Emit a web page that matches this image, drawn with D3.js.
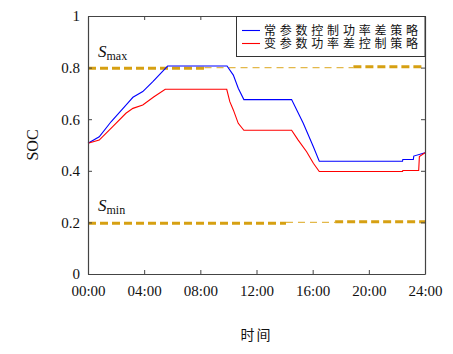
<!DOCTYPE html>
<html>
<head>
<meta charset="utf-8">
<script src="https://cdn.jsdelivr.net/npm/d3@7"></script>
<style>
  body { margin: 0; background: #fff; }
  svg text { font-family: "Liberation Serif", "DejaVu Serif", serif; fill: #111; }
  svg text.cjk { font-family: "Noto Sans CJK SC", sans-serif; }
</style>
</head>
<body>
<svg id="chart" width="453" height="354"></svg>
<script>
// hours and SOC
var blueT = [0, 0.8, 1.64, 2.83, 3.2, 3.9, 4.6, 5.67, 9.9, 10.35, 10.7, 11.1, 14.5, 15.33, 16.05, 16.47, 22.4, 22.42, 23.17, 23.2, 24];
var blueV = [0.507, 0.532, 0.59, 0.662, 0.685, 0.707, 0.745, 0.806, 0.806, 0.771, 0.72, 0.676, 0.676, 0.584, 0.493, 0.437, 0.437, 0.444, 0.444, 0.457, 0.47];
var redT = [0, 0.8, 1.76, 2.7, 3.2, 3.9, 4.7, 5.5, 9.88, 10.1, 10.35, 10.7, 11.1, 14.5, 14.97, 15.57, 16.05, 16.47, 22.4, 22.42, 23.55, 23.6, 24];
var redV = [0.507, 0.519, 0.571, 0.623, 0.642, 0.655, 0.687, 0.716, 0.716, 0.668, 0.636, 0.584, 0.557, 0.557, 0.519, 0.474, 0.429, 0.397, 0.397, 0.401, 0.401, 0.455, 0.47];

// Smax / Smin limit segments: [start h, end h, value, thick?]
var smaxSeg = [[0, 8.3, 0.797, true], [8.3, 18.9, 0.8, false], [18.9, 24, 0.803, true]];
var sminSeg = [[0, 14.1, 0.197, true], [14.1, 17.6, 0.2, false], [17.6, 24, 0.203, true]];

var xTicks = [0, 4, 8, 12, 16, 20, 24];
var xTickLabels = ['00:00', '04:00', '08:00', '12:00', '16:00', '20:00', '24:00'];
var yTicks = [0, 0.2, 0.4, 0.6, 0.8, 1];
var legendNames = ['常参数控制功率差策略', '变参数功率差控制策略'];
var colors = ['#0000ff', '#ff0000'];

var svg = d3.select('#chart');
var margin = {top: 16, left: 88, right: 28, bottom: 80};
var width = 453 - margin.left - margin.right,
    height = 354 - margin.top - margin.bottom;
var g = svg.append('g').attr('transform', 'translate(' + margin.left + ',' + margin.top + ')');

var x = d3.scaleLinear().domain([0, 24]).range([0, width]);
var y = d3.scaleLinear().domain([0, 1]).range([height, 0]);

// limit lines
var gold = '#d6a012';
function drawSeg(segs) {
  segs.forEach(function(s) {
    g.append('line')
      .attr('x1', x(s[0])).attr('x2', x(s[1]))
      .attr('y1', y(s[2])).attr('y2', y(s[2]))
      .attr('stroke', s[3] ? gold : '#e3b84a')
      .attr('stroke-width', s[3] ? 3 : 1.2)
      .attr('stroke-dasharray', s[3] ? '8,4' : '7,5');
  });
}
drawSeg(smaxSeg);
drawSeg(sminSeg);

var line = d3.line()
  .x(function(d) { return x(d[0]); })
  .y(function(d) { return y(d[1]); });

[[blueT, blueV], [redT, redV]].forEach(function(s, i) {
  g.append('path')
    .datum(d3.zip(s[0], s[1]))
    .attr('fill', 'none')
    .attr('stroke', colors[i])
    .attr('stroke-width', 1.1)
    .attr('d', line);
});

// axes (ticks inside, mirrored)
var axisColor = '#444';
var xb = g.append('g').attr('transform', 'translate(0,' + height + ')')
  .call(d3.axisBottom(x).tickValues(xTicks).tickSizeInner(-4).tickSizeOuter(0)
    .tickFormat(function(d, i) { return xTickLabels[i]; }));
var xt = g.append('g')
  .call(d3.axisTop(x).tickValues(xTicks).tickSizeInner(-4).tickSizeOuter(0).tickFormat(''));
var yl = g.append('g')
  .call(d3.axisLeft(y).tickValues(yTicks).tickSizeInner(-4).tickSizeOuter(0).tickFormat(d3.format('~g')));
var yr = g.append('g').attr('transform', 'translate(' + width + ',0)')
  .call(d3.axisRight(y).tickValues(yTicks).tickSizeInner(-4).tickSizeOuter(0).tickFormat(''));

[xb, xt, yl, yr].forEach(function(a) {
  a.attr('font-family', null).attr('font-size', null);
  a.select('.domain').attr('stroke', axisColor).attr('stroke-width', 1.2);
  a.selectAll('.tick line').attr('stroke', axisColor);
  a.selectAll('text').style('font-size', '15px').attr('fill', '#111');
});
xb.selectAll('.tick text').attr('dy', '1.25em');
yl.selectAll('.tick text').attr('x', -8);

// axis titles
svg.append('text').attr('class', 'cjk')
  .attr('x', margin.left + width / 2).attr('y', 340)
  .attr('text-anchor', 'middle').style('font-size', '14px').style('letter-spacing', '2px')
  .attr('fill', '#333').text('时间');
svg.append('text')
  .attr('transform', 'translate(38,' + (margin.top + height / 2) + ') rotate(-90)')
  .attr('text-anchor', 'middle').style('font-size', '16px').text('SOC');

// Smax / Smin labels
function limitLabel(yPos, sub) {
  var t = svg.append('text').attr('x', 98).attr('y', yPos).style('font-size', '17px');
  t.append('tspan').style('font-style', 'italic').text('S');
  t.append('tspan').attr('dy', 3).style('font-size', '12px').text(sub);
}
limitLabel(57, 'max');
limitLabel(211, 'min');

// legend
var lg = svg.append('g');
lg.append('rect').attr('x', 236.5).attr('y', 16.5).attr('width', 188.5).attr('height', 40)
  .attr('fill', '#fff').attr('stroke', '#333').attr('stroke-width', 1);
legendNames.forEach(function(name, i) {
  var yy = 30.5 + i * 13;
  lg.append('line').attr('x1', 242).attr('x2', 260).attr('y1', yy).attr('y2', yy)
    .attr('stroke', colors[i]).attr('stroke-width', 1.1);
  lg.append('text').attr('class', 'cjk').attr('x', 264).attr('y', yy + 4.5)
    .style('font-size', '12px')
    .attr('textLength', 154).attr('lengthAdjust', 'spacing')
    .attr('fill', '#222').text(name);
});
</script>
</body>
</html>
